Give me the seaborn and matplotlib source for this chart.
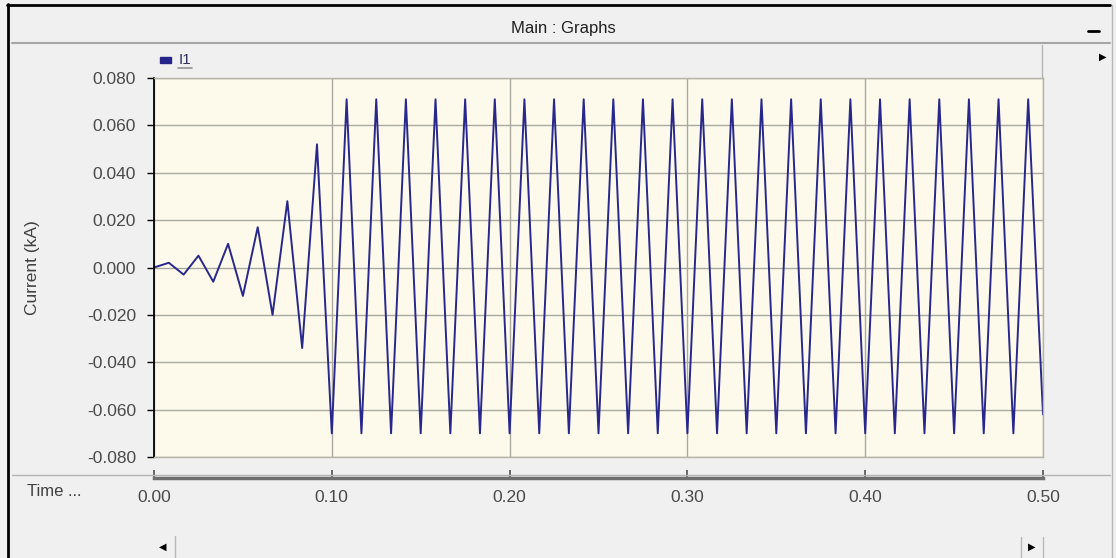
import numpy as np
import matplotlib
matplotlib.use("Agg")
import matplotlib.pyplot as plt
from matplotlib.lines import Line2D
from matplotlib.patches import Rectangle
import seaborn as sns

# ---------------- data ----------------
# current extremes at every half cycle (60 Hz -> one value each 1/120 s), kA
current_ka = [
    0.000, 0.002, -0.003, 0.005, -0.006, 0.010, -0.012, 0.017, -0.020, 0.028,
    -0.034, 0.052, -0.070, 0.071, -0.070, 0.071, -0.070, 0.071, -0.070, 0.071,
    -0.070, 0.071, -0.070, 0.071, -0.070, 0.071, -0.070, 0.071, -0.070, 0.071,
    -0.070, 0.071, -0.070, 0.071, -0.070, 0.071, -0.070, 0.071, -0.070, 0.071,
    -0.070, 0.071, -0.070, 0.071, -0.070, 0.071, -0.070, 0.071, -0.070, 0.071,
    -0.070, 0.071, -0.070, 0.071, -0.070, 0.071, -0.070, 0.071, -0.070, 0.071,
    -0.062,
]
time_s = np.linspace(0.0, 0.5, len(current_ka))

y_ticks = [-0.08, -0.06, -0.04, -0.02, 0.0, 0.02, 0.04, 0.06, 0.08]
x_ticks = [0.0, 0.1, 0.2, 0.3, 0.4, 0.5]
x_tick_labels = ["0.00", "0.10", "0.20", "0.30", "0.40", "0.50"]
series_name = "I1"
y_label = "Current (kA)"
x_label = "Time ..."
window_title = "Main : Graphs"

# ---------------- figure ----------------
sns.set_style("white")
plt.rcParams["font.family"] = ["Liberation Sans", "DejaVu Sans"]

W, H = 1116, 558
fig = plt.figure(figsize=(W / 100, H / 100), dpi=100)
fig.patch.set_facecolor("#f0f0f0")


def fx(px):
    return px / W


def fy(py):
    return 1 - py / H


def fline(x0, x1, y0, y1, **kw):
    fig.add_artist(Line2D([fx(x0), fx(x1)], [fy(y0), fy(y1)],
                          transform=fig.transFigure, **kw))


# main plotting area
ax = fig.add_axes([fx(154), fy(457), (1043 - 154) / W, (457 - 78) / H])
ax.set_facecolor("#fdfaec")
sns.lineplot(x=time_s, y=current_ka, ax=ax, color="#28288c", linewidth=1.4)
ax.set_xlim(0, 0.5)
ax.set_ylim(-0.08, 0.08)
ax.set_yticks(y_ticks)
ax.set_yticklabels([f"{v:.3f}" for v in y_ticks])
ax.set_xticks(x_ticks)
ax.set_xticklabels([])
ax.tick_params(axis="x", length=0)
ax.tick_params(axis="y", direction="out", length=5, width=1, color="black",
               labelsize=12.5, labelcolor="#4a4a4a", pad=8, left=True)
ax.grid(True, color="#aaa99f", linewidth=1)
ax.set_axisbelow(True)
for s in ["top", "right", "bottom"]:
    ax.spines[s].set_color("#b5b4aa")
    ax.spines[s].set_linewidth(1)
ax.spines["left"].set_color("black")
ax.spines["left"].set_linewidth(1.3)
ax.set_xlabel("")
ax.set_ylabel("")

# time axis below
tax = fig.add_axes([fx(154), fy(478), (1043 - 154) / W, 0.0001])
tax.set_facecolor("none")
tax.set_xlim(0, 0.5)
tax.set_yticks([])
tax.set_xticks(x_ticks)
tax.set_xticklabels(x_tick_labels)
for s in ["top", "right", "left"]:
    tax.spines[s].set_visible(False)
tax.spines["bottom"].set_color("#6e6e6e")
tax.spines["bottom"].set_linewidth(2.5)
tax.tick_params(axis="x", direction="in", length=6, width=1.2, color="#505050",
                labelsize=12.5, labelcolor="#4a4a4a", pad=9, bottom=True)

# texts
fig.text(fx(32), fy(268), y_label, rotation=90, ha="center", va="center",
         fontsize=12.5, color="#404040")
fig.text(fx(27), fy(491), x_label, ha="left", va="center",
         fontsize=12, color="#404040")
fig.text(fx(563), fy(28), window_title, ha="center", va="center",
         fontsize=12, color="#202020")

# legend
fig.add_artist(Rectangle((fx(160), fy(63)), 11 / W, 6 / H,
                         transform=fig.transFigure, color="#24248a"))
fig.text(fx(179), fy(60), series_name, ha="left", va="center",
         fontsize=11, color="#303060")
fline(178, 192, 68, 68, color="#909090", lw=1.2)

# window chrome
fline(7, 1110, 4.5, 4.5, color="black", lw=2)
fline(7.5, 7.5, 4, 558, color="black", lw=2)
fline(1112, 1112, 5, 558, color="#b8b8b8", lw=1)
fline(12, 1110, 43, 43, color="#a6a6a6", lw=1.5)
fline(12, 1110, 475, 475, color="#b4b4b4", lw=1)
fline(1042, 1042, 45, 78, color="#b4b4b4", lw=1)
fline(1088, 1099, 31, 31, color="black", lw=2)
fig.text(fx(1103), fy(57), "\u25B6", ha="center", va="center",
         fontsize=7, color="black", family="DejaVu Sans")
# bottom scrollbar
fline(175, 175, 536, 558, color="#b8b8b8", lw=1)
fline(1021, 1021, 537, 558, color="#b8b8b8", lw=1)
fline(1043, 1043, 537, 558, color="#b8b8b8", lw=1)
fig.text(fx(163), fy(547), "\u25C0", ha="center", va="center",
         fontsize=7, color="black", family="DejaVu Sans")
fig.text(fx(1032), fy(547), "\u25B6", ha="center", va="center",
         fontsize=7, color="black", family="DejaVu Sans")

fig.savefig("out.png", dpi=100, facecolor=fig.get_facecolor())
